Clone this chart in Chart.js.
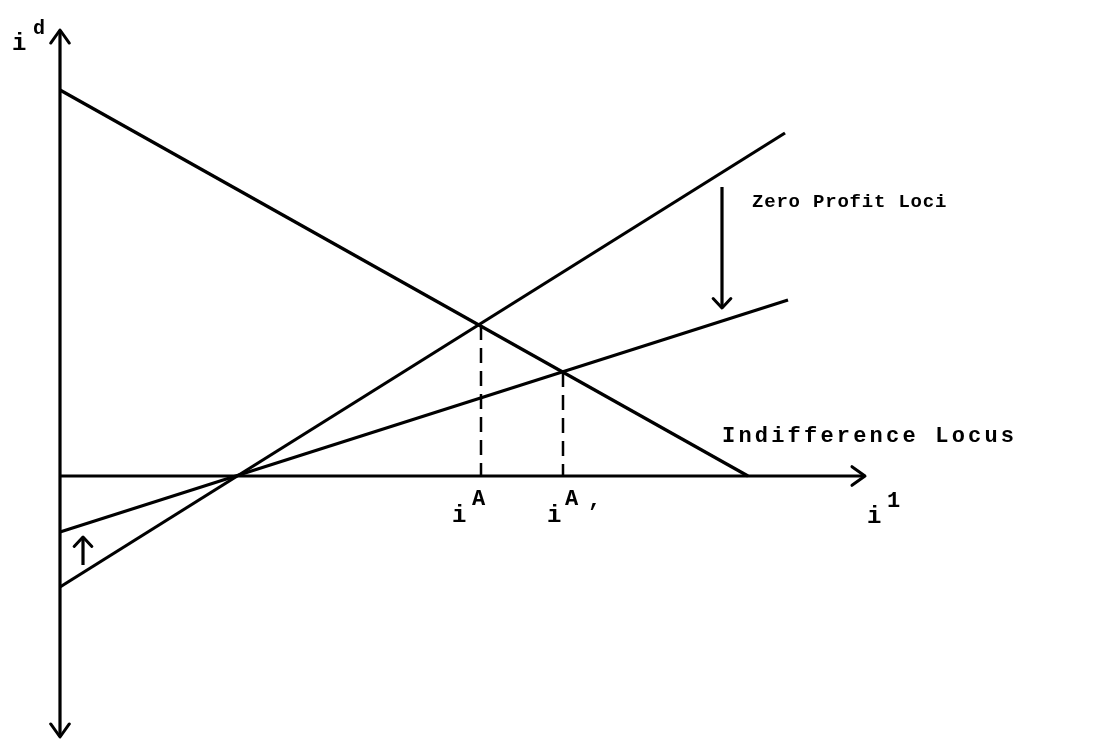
<!DOCTYPE html>
<html><head><meta charset="utf-8">
<script src="https://cdn.jsdelivr.net/npm/chart.js@4/dist/chart.umd.min.js"></script>
<style>html,body{margin:0;padding:0;background:#fff}#wrap{width:1107px;height:739px;position:relative}</style>
</head><body><div id="wrap"><canvas id="c" width="1107" height="739"></canvas></div>
<script>
// ---- data (diagram units; origin at the axes' crossing) ----
const indiffX = [0, 68.8];
const indiffY = [38.6, 0];
const zpSteepX = [0, 72.5];
const zpSteepY = [-11.1, 34.3];
const zpFlatX = [0, 72.8];
const zpFlatY = [-5.6, 17.6];
const eqX = [42.1, 50.3];       // i^A, i^A'
const eqY = [15.1, 10.4];
const axisXEnd = 80.5;
const axisYTop = 44.6;
const axisYBottom = -26.1;
const shiftDownX = [66.2, 66.2];
const shiftDownY = [28.9, 16.8];
const shiftUpX = [2.3, 2.3];
const shiftUpY = [-8.9, -6.1];

const pts = (xs, ys) => xs.map((x, i) => ({x, y: ys[i]}));
const black = '#000';
const line = (data, extra) => Object.assign({data, showLine: true, borderColor: black, borderWidth: 3.2,
  pointRadius: 0, fill: false, clip: false, tension: 0}, extra || {});

const datasets = [
  line(pts([0, axisXEnd], [0, 0]), {arrow: 'axis'}),
  line(pts([0, 0], [0, axisYTop]), {arrow: 'axis'}),
  line(pts([0, 0], [0, axisYBottom]), {arrow: 'axis'}),
  line(pts(indiffX, indiffY)),
  line(pts(zpSteepX, zpSteepY)),
  line(pts(zpFlatX, zpFlatY)),
  line(pts([eqX[0], eqX[0]], [eqY[0], 0]), {borderDash: [15, 8], borderWidth: 2.5}),
  line(pts([eqX[1], eqX[1]], [eqY[1], 0]), {borderDash: [15, 8], borderWidth: 2.5}),
  line(pts(shiftDownX, shiftDownY), {arrow: 'shift'}),
  line(pts(shiftUpX, shiftUpY), {arrow: 'shift'})
];

const FONT = '"Liberation Mono", "DejaVu Sans Mono", monospace';
const texts = [
  {t: 'i', x: -4.8, y: 42.6, size: 24},
  {t: 'd', x: -2.7, y: 44.2, size: 20},
  {t: 'i', x: 39.2, y: -4.6, size: 24},
  {t: 'A', x: 41.2, y: -2.9, size: 22},
  {t: 'i', x: 48.7, y: -4.6, size: 24},
  {t: 'A', x: 50.5, y: -2.9, size: 22},
  {t: ',', x: 52.8, y: -3.0, size: 22},
  {t: 'i', x: 80.7, y: -4.7, size: 24},
  {t: '1', x: 82.7, y: -3.1, size: 22},
  {t: 'Zero Profit Loci', x: 69.2, y: 26.9, size: 19, ls: 0.8},
  {t: 'Indifference Locus', x: 66.2, y: 3.4, size: 22, ls: 3.2}
];

const deco = {
  id: 'deco',
  afterDatasetsDraw(chart) {
    const ctx = chart.ctx, xs = chart.scales.x, ys = chart.scales.y;
    ctx.save();
    ctx.strokeStyle = black; ctx.lineWidth = 3; ctx.lineCap = 'round'; ctx.lineJoin = 'round';
    chart.data.datasets.forEach(ds => {
      if (!ds.arrow) return;
      const a = ds.data[ds.data.length - 2], b = ds.data[ds.data.length - 1];
      const x1 = xs.getPixelForValue(a.x), y1 = ys.getPixelForValue(a.y);
      const x2 = xs.getPixelForValue(b.x), y2 = ys.getPixelForValue(b.y);
      const ang = Math.atan2(y2 - y1, x2 - x1);
      const len = ds.arrow === 'axis' ? 16 : 13, spread = ds.arrow === 'axis' ? 0.62 : 0.75;
      ctx.beginPath();
      ctx.moveTo(x2 - len * Math.cos(ang - spread), y2 - len * Math.sin(ang - spread));
      ctx.lineTo(x2, y2);
      ctx.lineTo(x2 - len * Math.cos(ang + spread), y2 - len * Math.sin(ang + spread));
      ctx.stroke();
    });
    ctx.fillStyle = black; ctx.textBaseline = 'alphabetic'; ctx.textAlign = 'left';
    texts.forEach(o => {
      ctx.font = 'bold ' + o.size + 'px ' + FONT;
      ctx.letterSpacing = (o.ls || 0) + 'px';
      ctx.fillText(o.t, xs.getPixelForValue(o.x), ys.getPixelForValue(o.y));
    });
    ctx.restore();
  }
};

new Chart(document.getElementById('c'), {
  type: 'scatter',
  data: {datasets},
  options: {
    responsive: false, animation: false, devicePixelRatio: 1,
    layout: {padding: 0},
    plugins: {legend: {display: false}, tooltip: {enabled: false}},
    scales: {
      x: {type: 'linear', min: -6, max: 104.7, display: false},
      y: {type: 'linear', min: -26.3, max: 47.6, display: false}
    }
  },
  plugins: [deco]
});
</script>
</body></html>
